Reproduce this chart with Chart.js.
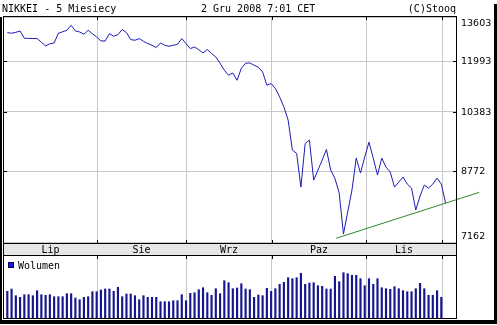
<!DOCTYPE html>
<html>
<head>
<meta charset="utf-8">
<script src="https://cdn.jsdelivr.net/npm/chart.js@4.4.1/dist/chart.umd.min.js"></script>
<style>
html, body { margin: 0; padding: 0; background: #fff; }
canvas { display: block; }
</style>
</head>
<body>
<canvas id="chart" width="497" height="325"></canvas>
<script>
const title = 'NIKKEI - 5 Miesiecy';
const stamp = '2 Gru 2008 7:01 CET';
const credit = '(C)Stooq';

// month names and where each month starts (session index)
const monthLabels = ['Lip', 'Sie', 'Wrz', 'Paz', 'Lis'];
const monthBounds = [21.1, 42, 62.2, 84.3, 102.2];

const priceTicks = [7162, 8772, 10383, 11993, 13603];

// daily close, one per session from early July
const closeValues = [
  13013, 12988, 13024, 13072, 12804, 12800, 12797, 12793, 12660, 12527,
  12605, 12634, 12988, 13043, 13099, 13286, 13072, 13036, 12950, 13099,
  12969, 12852, 12706, 12706, 12976, 12877, 12940, 13125, 13013, 12757,
  12732, 12793, 12695, 12612, 12552, 12470, 12634, 12552, 12517, 12552,
  12588, 12793, 12612, 12435, 12491, 12392, 12281, 12400, 12260, 12142,
  11926, 11691, 11526, 11602, 11363, 11758, 11926, 11937, 11859, 11792,
  11635, 11203, 11258, 11100, 10837, 10534, 10143, 9315, 9228, 8385,
  9493, 9583, 8553, 8800, 9054, 9333, 8800, 8595, 8244, 7337,
  7810, 8314, 9106, 8726, 9132, 9528, 9106, 8676, 9106, 8875,
  8751, 8385, 8505, 8627, 8457, 8361, 7855, 8173, 8433, 8361,
  8457, 8602, 8457, 8012
];

// volume (mln shares, estimated)
const volumeValues = [
  1335, 1450, 1115, 1035, 1165, 1165, 1115, 1365, 1165, 1135,
  1165, 1065, 1065, 1065, 1215, 1215, 1000, 915, 1035, 1065,
  1315, 1315, 1400, 1450, 1450, 1335, 1535, 1065, 1200, 1200,
  1115, 915, 1115, 1035, 1035, 1035, 815, 815, 815, 865,
  865, 1165, 865, 1235, 1265, 1415, 1515, 1265, 1135, 1465,
  1215, 1865, 1765, 1465, 1500, 1715, 1450, 1415, 1035, 1150,
  1115, 1485, 1335, 1465, 1685, 1785, 2015, 1965, 2015, 2235,
  1685, 1750, 1765, 1615, 1585, 1450, 1450, 2085, 1815, 2265,
  2215, 2135, 2135, 1965, 1615, 1965, 1685, 1965, 1515, 1465,
  1435, 1565, 1465, 1365, 1315, 1315, 1465, 1735, 1465, 1135,
  1135, 1365, 1035
];

// support line drawn by hand on the chart
const trendX = [77.3, 110.9];
const trendY = [7250, 8260];

const MONO = '10px "DejaVu Sans Mono", monospace';
const SANS = '9.5px "DejaVu Sans", sans-serif';

const frame = {
  id: 'frame',
  afterDatasetsDraw(chart) {
    const ctx = chart.ctx;
    const a = chart.chartArea;
    const xs = chart.scales.x;
    const ys = chart.scales.y;
    const bandTop = Math.round(ys.getPixelForValue(priceTicks[0]));
    const bandBot = bandTop + 12;
    ctx.save();

    // month band
    ctx.fillStyle = '#e6e6e6';
    ctx.fillRect(a.left, bandTop, a.right - a.left, 12);
    ctx.strokeStyle = '#000';
    ctx.lineWidth = 1;
    ctx.beginPath();
    ctx.moveTo(a.left, bandTop + 0.5); ctx.lineTo(a.right, bandTop + 0.5);
    ctx.moveTo(a.left, bandBot + 0.5); ctx.lineTo(a.right, bandBot + 0.5);
    monthBounds.forEach(v => {
      const x = Math.round(xs.getPixelForValue(v)) + 0.5;
      ctx.moveTo(x, a.top); ctx.lineTo(x, a.top + 3);
      ctx.moveTo(x, bandTop - 3); ctx.lineTo(x, bandTop);
      ctx.moveTo(x, bandBot); ctx.lineTo(x, bandBot + 4);
    });
    priceTicks.slice(1, -1).forEach(v => {
      const y = Math.round(ys.getPixelForValue(v)) + 0.5;
      ctx.moveTo(a.left, y); ctx.lineTo(a.left + 3, y);
      ctx.moveTo(a.right - 3, y); ctx.lineTo(a.right, y);
    });
    ctx.stroke();
    ctx.strokeRect(a.left - 0.5, a.top - 0.5, a.right - a.left + 1, a.bottom - a.top + 1);

    // month names
    ctx.fillStyle = '#000';
    ctx.font = MONO;
    ctx.textAlign = 'center';
    ctx.textBaseline = 'alphabetic';
    monthLabels.forEach((m, k) => {
      const l = k === 0 ? a.left : xs.getPixelForValue(monthBounds[k - 1]);
      const r = xs.getPixelForValue(monthBounds[k]);
      ctx.fillText(m, (l + r) / 2, bandTop + 9.5);
    });

    // price labels on the right
    ctx.font = SANS;
    ctx.textAlign = 'left';
    ctx.textBaseline = 'middle';
    priceTicks.forEach(v => {
      let y = ys.getPixelForValue(v);
      y = Math.max(a.top + 6, Math.min(bandTop - 7, y));
      ctx.fillText(String(v), 461, y + 0.5);
    });

    // header
    ctx.font = MONO;
    ctx.textBaseline = 'alphabetic';
    ctx.fillText(title, 2, 12);
    ctx.fillText(stamp, 201, 12);
    ctx.textAlign = 'right';
    ctx.fillText(credit, a.right, 12);

    // volume legend
    ctx.fillStyle = '#1a1ad6';
    ctx.fillRect(8, bandBot + 7, 6, 6);
    ctx.strokeStyle = '#000066';
    ctx.strokeRect(8.5, bandBot + 7.5, 5, 5);
    ctx.fillStyle = '#000';
    ctx.textAlign = 'left';
    ctx.fillText('Wolumen', 18, bandBot + 14);

    // outer frame with shadow
    ctx.fillStyle = '#000';
    ctx.fillRect(0, 17, 2, 307);
    ctx.fillRect(0, 320, 497, 4);
    ctx.fillRect(494, 4, 3, 320);
    ctx.restore();
  }
};

new Chart(document.getElementById('chart'), {
  data: {
    datasets: [
      {
        type: 'bar',
        data: volumeValues.map((v, i) => ({ x: i, y: v })),
        yAxisID: 'yv',
        backgroundColor: '#16168e',
        barThickness: 1.5
      },
      {
        type: 'line',
        data: closeValues.map((v, i) => ({ x: i, y: v })),
        yAxisID: 'y',
        borderColor: '#1c1cb8',
        borderWidth: 1,
        pointRadius: 0,
        tension: 0
      },
      {
        type: 'line',
        data: trendX.map((x, i) => ({ x: x, y: trendY[i] })),
        yAxisID: 'y',
        borderColor: '#2a8a2a',
        borderWidth: 1,
        pointRadius: 0,
        clip: false
      }
    ]
  },
  options: {
    responsive: false,
    animation: false,
    layout: { autoPadding: false, padding: { left: 4, right: 41, top: 17, bottom: 7 } },
    plugins: { legend: { display: false }, tooltip: { enabled: false } },
    scales: {
      x: {
        type: 'linear',
        min: -0.78,
        max: 105.45,
        offset: false,
        bounds: 'ticks',
        afterBuildTicks: s => { s.ticks = monthBounds.map(v => ({ value: v })); },
        ticks: { display: false },
        grid: { color: '#c8c8c8', drawTicks: false, offset: false },
        border: { display: false }
      },
      y: {
        type: 'logarithmic',
        position: 'right',
        min: 5778,
        max: 13603,
        afterBuildTicks: s => { s.ticks = priceTicks.map(v => ({ value: v })); },
        ticks: { display: false },
        grid: { color: '#c8c8c8', drawTicks: false },
        border: { display: false }
      },
      yv: {
        type: 'linear',
        display: false,
        min: 0,
        max: 15050
      }
    }
  },
  plugins: [frame]
});
</script>
</body>
</html>
